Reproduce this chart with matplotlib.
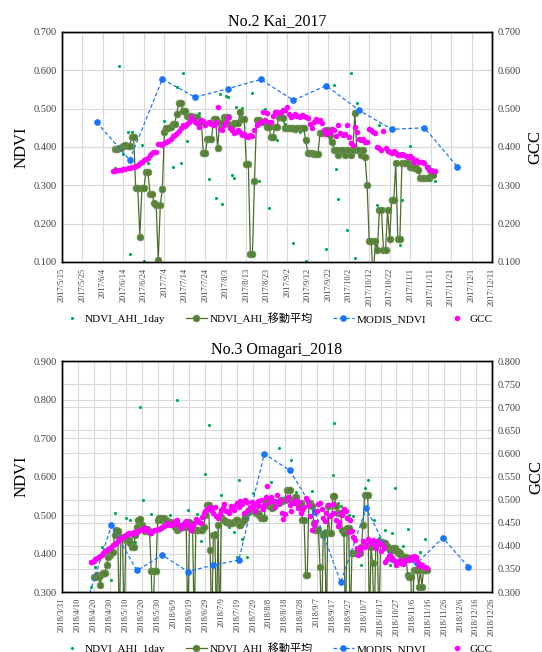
import numpy as np
import pandas as pd
import matplotlib
matplotlib.use('Agg')
import matplotlib.pyplot as plt
from matplotlib.ticker import FormatStrFormatter

plt.rcParams['font.family'] = ['Liberation Serif', 'Noto Sans CJK JP']

# ---------------- No.2 Kai 2017 ----------------
kai_ahi_dates = ['6/10', '6/11', '6/12', '6/14', '6/15', '6/16', '6/17', '6/18', '6/19', '6/21',
                 '6/23', '6/24', '6/26', '6/28', '7/2', '7/4', '7/5', '7/8', '7/9', '7/10',
                 '7/11', '7/12', '7/13', '7/15', '7/18', '7/21', '7/24', '7/26', '7/28', '7/29',
                 '7/30', '7/31', '8/1', '8/3', '8/4', '8/6', '8/7', '8/8', '8/9', '8/11',
                 '8/12', '8/14', '8/16', '8/17', '8/19', '8/20', '8/22', '8/24', '8/26', '8/28',
                 '9/1', '9/3', '9/5', '9/8', '9/10', '9/11', '9/14', '9/19', '9/21', '9/23',
                 '9/25', '9/26', '9/27', '10/1', '10/3', '10/5', '10/6', '10/8', '10/16', '10/17',
                 '10/19', '10/25', '10/27', '10/28', '10/30', '11/1', '11/4', '11/6', '11/7', '11/10',
                 '11/12', '11/13']
kai_ahi_vals = [0.344, 0.392, 0.611, 0.382, 0.400, 0.438, 0.120, 0.438, 0.425, 0.290,
                0.404, 0.103, 0.358, 0.277, 0.103, 0.469, 0.450, 0.349, 0.462, 0.556,
                0.490, 0.357, 0.594, 0.416, 0.480, 0.488, 0.390, 0.317, 0.470, 0.266,
                0.501, 0.538, 0.250, 0.533, 0.530, 0.327, 0.320, 0.505, 0.490, 0.501,
                0.470, 0.360, 0.540, 0.120, 0.311, 0.460, 0.498, 0.240, 0.420, 0.418,
                0.460, 0.450, 0.150, 0.440, 0.421, 0.103, 0.380, 0.440, 0.135, 0.420,
                0.562, 0.342, 0.264, 0.183, 0.592, 0.110, 0.514, 0.380, 0.249, 0.457,
                0.240, 0.380, 0.144, 0.262, 0.360, 0.403, 0.340, 0.340, 0.320, 0.350,
                0.330, 0.310]

# 移動平均 (daily from 6/10)
kai_ma_start = '2017-06-10'
kai_ma_vals = [
    0.395, 0.395, 0.396, 0.398, 0.403, 0.404, 0.403, 0.403, 0.425, 0.426, 0.292, 0.292, 0.166, 0.292,
    0.292, 0.334, 0.334, 0.277, 0.277, 0.253, 0.248,
    0.104, 0.248, 0.290, 0.438, 0.449, 0.449, 0.452, 0.460, 0.460, 0.486, 0.514, 0.514, 0.494, 0.494,
    0.481, 0.481, 0.480, 0.478, 0.477, 0.477, 0.466, 0.466, 0.384, 0.384, 0.420, 0.420, 0.420, 0.472,
    0.472, 0.398, 0.462,
    0.462, 0.479, 0.479, 0.479, 0.457, 0.457, 0.462, 0.462, 0.462, 0.490, 0.472, 0.472, 0.356, 0.356,
    0.121, 0.121, 0.311, 0.470, 0.470, 0.466, 0.466, 0.466, 0.453, 0.453, 0.427, 0.427, 0.453, 0.453,
    0.479, 0.479, 0.475,
    0.449, 0.449, 0.449, 0.449, 0.449, 0.448, 0.449, 0.449, 0.449, 0.449, 0.418, 0.385, 0.385, 0.385,
    0.381, 0.381, 0.381, 0.437, 0.437, 0.440, 0.444, 0.444, 0.430, 0.414, 0.392, 0.392, 0.380, 0.392,
    0.392, 0.380,
    0.392, 0.392, 0.380, 0.392, 0.488, 0.392, 0.392, 0.380, 0.392, 0.375, 0.301, 0.155, 0.155, 0.050,
    0.155, 0.130, 0.236, 0.236, 0.130, 0.130, 0.236, 0.159, 0.262, 0.262, 0.357, 0.159, 0.159, 0.357,
    0.357, 0.357, 0.357,
    0.349, 0.349, 0.344, 0.344, 0.340, 0.318, 0.318, 0.318, 0.318, 0.318, 0.327, 0.327]

kai_modis_dates = ['6/1', '6/17', '7/3', '7/19', '8/4', '8/20', '9/5', '9/21', '10/7', '10/23', '11/8', '11/24']
kai_modis_vals = [0.464, 0.366, 0.577, 0.530, 0.552, 0.576, 0.522, 0.560, 0.496, 0.446, 0.450, 0.349]

# GCC (daily from 6/9)
kai_gcc_start = '2017-06-09'
kai_gcc_vals = [
    0.338, 0.338, 0.339, 0.340, 0.341, 0.342, 0.343, 0.345, 0.346, 0.348, 0.349, 0.350, 0.352, 0.357,
    0.362, 0.366, 0.368, 0.372, 0.380, 0.384, 0.388, 0.386,
    0.409, 0.408, 0.406, 0.410, 0.412, 0.416, 0.422, 0.428, 0.432, 0.437, 0.442, 0.449, 0.458, 0.455,
    0.460, 0.465, 0.477, 0.470, 0.466, 0.462, 0.452, 0.470, 0.468, 0.458, 0.462, 0.465, 0.460, 0.458,
    0.466, 0.503, 0.448,
    0.443, 0.458, 0.466, 0.478, 0.449, 0.445, 0.436, 0.440, 0.444, 0.438, 0.431, 0.433, 0.428, 0.427,
    0.430, 0.429, 0.445, 0.457, 0.462, 0.466, 0.490, 0.470, 0.488, 0.466, 0.466, 0.480, 0.492, 0.490,
    0.488, 0.492, 0.497,
    0.497, 0.503, 0.486, 0.479, 0.482, 0.486, 0.480, 0.478, 0.483, 0.480, 0.478, 0.476, 0.460, 0.450,
    0.466, 0.474, 0.468, 0.470, 0.462, 0.445, 0.435, 0.437, 0.440, 0.448, 0.445, 0.428, 0.457, 0.437,
    0.431, 0.435,
    0.457, 0.425, 0.410, 0.405, 0.453, 0.440, 0.420, 0.418, 0.422, 0.414, 0.414, 0.446, 0.444, 0.440,
    0.436, 0.400, 0.398, 0.392, 0.441, 0.396, 0.390, 0.386, 0.384, 0.390, 0.385, 0.380, 0.378, 0.382,
    0.378, 0.376, 0.375,
    0.376, 0.372, 0.362, 0.366, 0.362, 0.360, 0.362, 0.358, 0.347, 0.340, 0.340, 0.337, 0.336]

# ---------------- No.3 Omagari 2018 ----------------
oma_ahi_dates = ['4/18', '4/21', '4/23', '4/25', '5/1', '5/3', '5/5', '5/10', '5/13', '5/16',
                 '5/19', '5/21', '5/24', '5/26', '6/1', '6/4', '6/7', '6/11', '6/14', '6/18',
                 '6/21', '6/24', '6/26', '6/29', '7/1', '7/5', '7/9', '7/12', '7/14', '7/17',
                 '7/19', '7/20', '7/22', '7/25', '7/29', '8/2', '8/5', '8/9', '8/12', '8/14',
                 '8/17', '8/21', '8/22', '8/25', '8/28', '9/4', '9/8', '9/12', '9/17', '9/18',
                 '9/20', '9/22', '9/27', '9/30', '10/5', '10/7', '10/9', '10/13', '10/16', '10/20',
                 '10/23', '10/24', '10/26', '10/29', '10/31', '11/3', '11/6', '11/8', '11/11', '11/14']
oma_ahi_vals = [0.312, 0.366, 0.340, 0.417, 0.331, 0.505, 0.455, 0.492, 0.486, 0.430,
                0.781, 0.540, 0.470, 0.503, 0.495, 0.480, 0.501, 0.798, 0.465, 0.514,
                0.470, 0.503, 0.433, 0.607, 0.734, 0.455, 0.551, 0.480, 0.470, 0.457,
                0.392, 0.590, 0.437, 0.390, 0.557, 0.505, 0.495, 0.585, 0.540, 0.673,
                0.530, 0.620, 0.644, 0.560, 0.520, 0.563, 0.470, 0.460, 0.603, 0.740,
                0.530, 0.523, 0.501, 0.498, 0.370, 0.571, 0.592, 0.488, 0.440, 0.460,
                0.370, 0.453, 0.569, 0.410, 0.420, 0.464, 0.380, 0.360, 0.403, 0.437]

# 移動平均 (daily from 4/20)
oma_ma_start = '2018-04-20'
oma_ma_vals = [
    0.340, 0.338, 0.345, 0.340, 0.318, 0.348, 0.349, 0.350, 0.370, 0.392, 0.397,
    0.402, 0.405, 0.449, 0.460, 0.458, 0.200, 0.444, 0.440, 0.200, 0.436, 0.436, 0.436, 0.427, 0.418,
    0.418, 0.449, 0.470, 0.488, 0.490, 0.475, 0.466, 0.458, 0.460, 0.460, 0.455, 0.355, 0.200, 0.355,
    0.355, 0.488, 0.492,
    0.492, 0.488, 0.492, 0.488, 0.485, 0.483, 0.483, 0.479, 0.479, 0.470, 0.462, 0.466, 0.466, 0.470,
    0.475, 0.470, 0.468, 0.200, 0.483, 0.468, 0.462, 0.200, 0.462, 0.462, 0.462, 0.462, 0.462, 0.470,
    0.501, 0.527,
    0.527, 0.410, 0.200, 0.449, 0.449, 0.200, 0.475, 0.200, 0.496, 0.488, 0.488, 0.483, 0.483, 0.479,
    0.479, 0.479, 0.483, 0.488, 0.488, 0.475, 0.475, 0.483, 0.488, 0.495, 0.505, 0.510, 0.510, 0.514,
    0.514, 0.510, 0.505,
    0.505, 0.500, 0.492, 0.492, 0.492, 0.536, 0.536, 0.523, 0.523, 0.518, 0.523, 0.531, 0.531, 0.531,
    0.536, 0.540, 0.540, 0.540, 0.566, 0.566, 0.566, 0.540, 0.540, 0.548, 0.548, 0.531, 0.531, 0.531,
    0.488, 0.488, 0.344,
    0.344, 0.531, 0.531, 0.523, 0.480, 0.462, 0.462, 0.462, 0.366, 0.200, 0.449, 0.453, 0.200, 0.523,
    0.453, 0.453, 0.549, 0.549, 0.523, 0.505, 0.505, 0.505, 0.460, 0.453, 0.200, 0.466, 0.466, 0.200,
    0.401, 0.401,
    0.401, 0.401, 0.401, 0.401, 0.418, 0.475, 0.553, 0.553, 0.553, 0.200, 0.418, 0.375, 0.200, 0.427,
    0.427, 0.200, 0.431, 0.431, 0.427, 0.427, 0.420, 0.414, 0.410, 0.410, 0.414, 0.414, 0.410, 0.401,
    0.401, 0.397, 0.392,
    0.392, 0.392, 0.344, 0.340, 0.340, 0.200, 0.357, 0.357, 0.357, 0.314, 0.357, 0.314, 0.357, 0.357,
    0.357]

oma_modis_dates = ['4/15', '5/1', '5/17', '6/2', '6/18', '7/4', '7/20', '8/5', '8/21', '9/6',
                   '9/22', '10/8', '10/24', '11/9', '11/25', '12/11']
oma_modis_vals = [0.266, 0.473, 0.356, 0.396, 0.353, 0.370, 0.383, 0.659, 0.616, 0.507,
                  0.325, 0.518, 0.385, 0.375, 0.441, 0.366]

# GCC (daily from 4/18)
oma_gcc_start = '2018-04-18'
oma_gcc_vals = [
    0.364, 0.366, 0.368, 0.371, 0.373, 0.376, 0.378, 0.380, 0.384, 0.388, 0.391, 0.394, 0.396,
    0.398, 0.401, 0.404, 0.406, 0.410, 0.414, 0.417, 0.419, 0.421, 0.424, 0.425, 0.427, 0.428, 0.426,
    0.429, 0.428, 0.430, 0.432, 0.435, 0.436, 0.434, 0.438, 0.438, 0.433, 0.430, 0.428, 0.431, 0.434,
    0.435, 0.437, 0.436,
    0.438, 0.440, 0.443, 0.446, 0.449, 0.447, 0.445, 0.446, 0.450, 0.453, 0.455, 0.448, 0.442, 0.438,
    0.446, 0.452, 0.453, 0.447, 0.440, 0.435, 0.442, 0.450, 0.457, 0.455, 0.451, 0.449, 0.462, 0.470,
    0.475, 0.479,
    0.482, 0.485, 0.476, 0.470, 0.485, 0.464, 0.460, 0.468, 0.478, 0.482, 0.490, 0.475, 0.475, 0.470,
    0.486, 0.482, 0.478, 0.488, 0.492, 0.485, 0.496, 0.490, 0.470, 0.500, 0.494, 0.478, 0.484, 0.495,
    0.485, 0.475, 0.490,
    0.496, 0.486, 0.500, 0.480, 0.488, 0.505, 0.529, 0.494, 0.505, 0.498, 0.496, 0.485, 0.510, 0.492,
    0.500, 0.470, 0.457, 0.468, 0.500, 0.505, 0.488, 0.475, 0.492, 0.500, 0.493, 0.482, 0.495, 0.470,
    0.478, 0.485, 0.504,
    0.500, 0.488, 0.464, 0.434, 0.445, 0.452, 0.475, 0.490, 0.493, 0.480, 0.460, 0.453, 0.470, 0.488,
    0.464, 0.466, 0.490, 0.470, 0.455, 0.442, 0.452, 0.472, 0.466, 0.480, 0.475, 0.460, 0.430, 0.455,
    0.432, 0.420,
    0.413, 0.395, 0.380, 0.390, 0.398, 0.410, 0.398, 0.402, 0.415, 0.410, 0.408, 0.413, 0.400, 0.395,
    0.410, 0.405, 0.388, 0.405, 0.395, 0.365, 0.372, 0.378, 0.380, 0.373, 0.370, 0.368, 0.358, 0.365,
    0.370, 0.362, 0.360,
    0.365, 0.369, 0.372, 0.370, 0.376, 0.372, 0.378, 0.376, 0.368, 0.356, 0.360, 0.358, 0.355, 0.354,
    0.352]

labels = ['NDVI_AHI_1day', 'NDVI_AHI_移動平均', 'MODIS_NDVI', 'GCC']


def md(year, lst):
    return pd.to_datetime([f'{year}/{s}' for s in lst], format='%Y/%m/%d')


def daily(start, vals):
    return pd.date_range(start, periods=len(vals), freq='D')


def panel(ax, title, x_start, x_end, ylim, yticks, ylim2, yticks2,
          ahi_d, ahi_v, ma_d, ma_v, modis_d, modis_v, gcc_d, gcc_v):
    ax2 = ax.twinx()
    xt = pd.date_range(x_start, x_end, freq='10D')
    ax.set_xlim(xt[0], xt[-1])
    ax.set_ylim(*ylim)
    ax.set_yticks(yticks)
    ax2.set_ylim(*ylim2)
    ax2.set_yticks(yticks2)

    # 网格线（副轴的横线也画在主轴上，放在点的下面）
    ax.set_axisbelow(True)
    ax.grid(True, color='#d9d9d9', lw=0.8)
    lo, hi = ylim
    glo, ghi = ylim2
    for t in yticks2:
        ax.axhline(lo + (t - glo) * (hi - lo) / (ghi - glo), color='#d9d9d9', lw=0.8, zorder=0.5)

    h1, = ax.plot(ahi_d, ahi_v, 'o', ms=2.3, color='#00b050', mew=0, zorder=2)
    h2, = ax.plot(ma_d, ma_v, '-o', color='#4b6b2b', lw=0.9, ms=4.9,
                  mfc='#548235', mec='#6f8f55', mew=0.5, zorder=3)
    h3, = ax.plot(modis_d, modis_v, 'o', ls=(0, (3, 2)), color='#1a75ff', lw=0.9, ms=4.8,
                  mew=0, zorder=4)
    h4, = ax2.plot(gcc_d, gcc_v, 'o', ms=4.0, color='#ff00ff', mew=0)

    ax.set_xticks(xt)
    ax.set_xticklabels([f'{t.year}/{t.month}/{t.day}' for t in xt], rotation=90,
                       fontsize=6, color='#404040')
    ax.yaxis.set_major_formatter(FormatStrFormatter('%.3f'))
    ax2.yaxis.set_major_formatter(FormatStrFormatter('%.3f'))
    ax.tick_params(axis='y', length=0, labelsize=7.5, labelcolor='#404040', pad=4)
    ax.tick_params(axis='x', length=0, pad=4)
    ax2.tick_params(axis='y', length=0, labelsize=7.5, labelcolor='#404040', pad=4)
    for a in (ax, ax2):
        for s in a.spines.values():
            s.set_color('black')
            s.set_linewidth(1.0)

    ax.set_ylabel('NDVI', fontsize=12, labelpad=3)
    ax2.set_ylabel('GCC', fontsize=12, labelpad=5)
    ax.set_title(title, fontsize=11.5, pad=5)

    ax.legend([h1, h2, h3, h4], labels, loc='center', bbox_to_anchor=(0.5, -0.245),
              ncol=4, frameon=False, fontsize=8, handlelength=1.9, columnspacing=1.8,
              handletextpad=0.25, numpoints=1)


fig = plt.figure(figsize=(5.42, 6.52), dpi=100)
ax_top = fig.add_axes([0.1144, 0.5982, 0.7934, 0.3528])
ax_bot = fig.add_axes([0.1144, 0.0920, 0.7934, 0.3543])

panel(ax_top, 'No.2 Kai_2017', '2017-05-15', '2017-12-11',
      (0.1, 0.7), np.arange(0.1, 0.701, 0.1), (0.1, 0.7), np.arange(0.1, 0.701, 0.1),
      md(2017, kai_ahi_dates), kai_ahi_vals,
      daily(kai_ma_start, kai_ma_vals), kai_ma_vals,
      md(2017, kai_modis_dates), kai_modis_vals,
      daily(kai_gcc_start, kai_gcc_vals), kai_gcc_vals)

panel(ax_bot, 'No.3 Omagari_2018', '2018-03-31', '2018-12-26',
      (0.3, 0.9), np.arange(0.3, 0.901, 0.1), (0.3, 0.8), np.arange(0.3, 0.801, 0.05),
      md(2018, oma_ahi_dates), oma_ahi_vals,
      daily(oma_ma_start, oma_ma_vals), oma_ma_vals,
      md(2018, oma_modis_dates), oma_modis_vals,
      daily(oma_gcc_start, oma_gcc_vals), oma_gcc_vals)

fig.savefig('out.png', dpi=100)
